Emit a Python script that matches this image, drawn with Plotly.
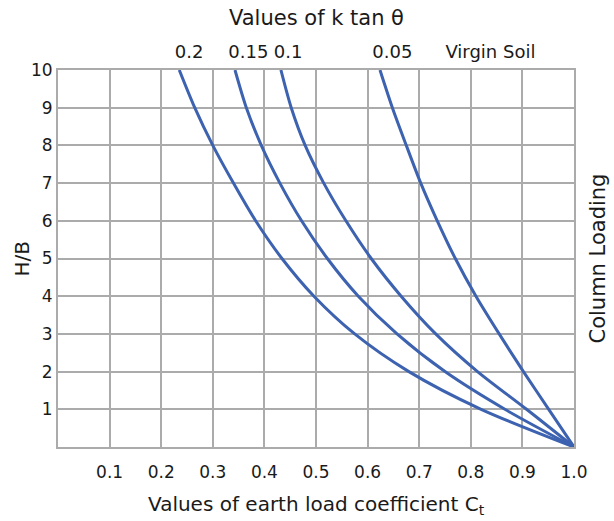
import plotly.graph_objects as go

# H/B ordinates shared by all curves
h_over_b = [0, 1, 2, 3, 4, 5, 6, 7, 8, 9, 10]

# Earth load coefficient C_t for each value of k tan(theta)
ct_020 = [1.0, 0.820, 0.680, 0.575, 0.496, 0.434, 0.383, 0.340, 0.300, 0.265, 0.235]
ct_015 = [1.0, 0.866, 0.750, 0.657, 0.582, 0.522, 0.472, 0.430, 0.394, 0.365, 0.343]
ct_010 = [1.0, 0.908, 0.813, 0.732, 0.665, 0.607, 0.558, 0.515, 0.479, 0.452, 0.432]
ct_005 = [1.0, 0.951, 0.902, 0.855, 0.810, 0.770, 0.735, 0.703, 0.675, 0.648, 0.624]

# Top-axis labels and where they sit along the C_t scale
top_labels = ["0.2", "0.15", "0.1", "0.05", "Virgin Soil"]
top_positions = [0.254, 0.369, 0.446, 0.648, 0.838]

x_ticks = [0.1, 0.2, 0.3, 0.4, 0.5, 0.6, 0.7, 0.8, 0.9, 1.0]
x_tick_text = ["0.1", "0.2", "0.3", "0.4", "0.5", "0.6", "0.7", "0.8", "0.9", "1.0"]
y_ticks = [1, 2, 3, 4, 5, 6, 7, 8, 9, 10]

LINE = "#3d62b0"
GRID = "#ababab"
FONT = "DejaVu Sans"
TEXT = "#1a1a1a"

fig = go.Figure()
for series in (ct_020, ct_015, ct_010, ct_005):
    fig.add_trace(go.Scatter(
        x=series, y=h_over_b, mode="lines",
        line=dict(color=LINE, width=3, shape="spline", smoothing=0.8),
        showlegend=False, hoverinfo="skip",
    ))

# invisible trace anchoring the top axis
fig.add_trace(go.Scatter(x=[0, 1], y=[0, 0], xaxis="x2", mode="markers",
                         marker=dict(opacity=0), showlegend=False, hoverinfo="skip"))

title_font = dict(family=FONT, size=20, color=TEXT)

fig.update_layout(
    width=614, height=521,
    margin=dict(l=58, r=40, t=70, b=74),
    paper_bgcolor="white", plot_bgcolor="white",
    font=dict(family=FONT, size=17, color=TEXT),
    xaxis=dict(
        range=[0, 1.0], tickvals=x_ticks, ticktext=x_tick_text,
        showgrid=True, gridcolor=GRID, gridwidth=2,
        showline=True, linecolor=GRID, linewidth=2, mirror=True,
        ticks="outside", ticklen=9, tickcolor="rgba(0,0,0,0)",
        zeroline=False, automargin=False,
    ),
    xaxis2=dict(
        range=[0, 1.0], overlaying="x", side="top", anchor="y",
        tickvals=top_positions, ticktext=top_labels,
        showgrid=False, zeroline=False, showline=False,
        ticks="outside", ticklen=4, tickcolor="rgba(0,0,0,0)",
        tickfont=dict(size=18), automargin=False,
    ),
    yaxis=dict(
        range=[0, 10], tickvals=y_ticks,
        showgrid=True, gridcolor=GRID, gridwidth=2,
        showline=True, linecolor=GRID, linewidth=2, mirror=True,
        zeroline=False, ticks="", automargin=False,
    ),
    annotations=[
        dict(text="Values of earth load coefficient C<sub>t</sub>", xref="paper", yref="paper",
             x=0.5, y=0, xanchor="center", yanchor="middle", yshift=-58,
             showarrow=False, font=title_font),
        dict(text="Values of k tan θ", xref="paper", yref="paper",
             x=0.5, y=1, xanchor="center", yanchor="middle", yshift=52,
             showarrow=False, font=dict(family=FONT, size=21, color=TEXT)),
        dict(text="H/B", xref="paper", yref="paper",
             x=0, y=0.5, xanchor="center", yanchor="middle", xshift=-37,
             textangle=-90, showarrow=False, font=title_font),
        dict(text="Column Loading", xref="paper", yref="paper",
             x=1, y=0.5, xanchor="center", yanchor="middle", xshift=23,
             textangle=-90, showarrow=False, font=dict(family=FONT, size=21, color=TEXT)),
    ],
)

fig.write_html("out.html")
